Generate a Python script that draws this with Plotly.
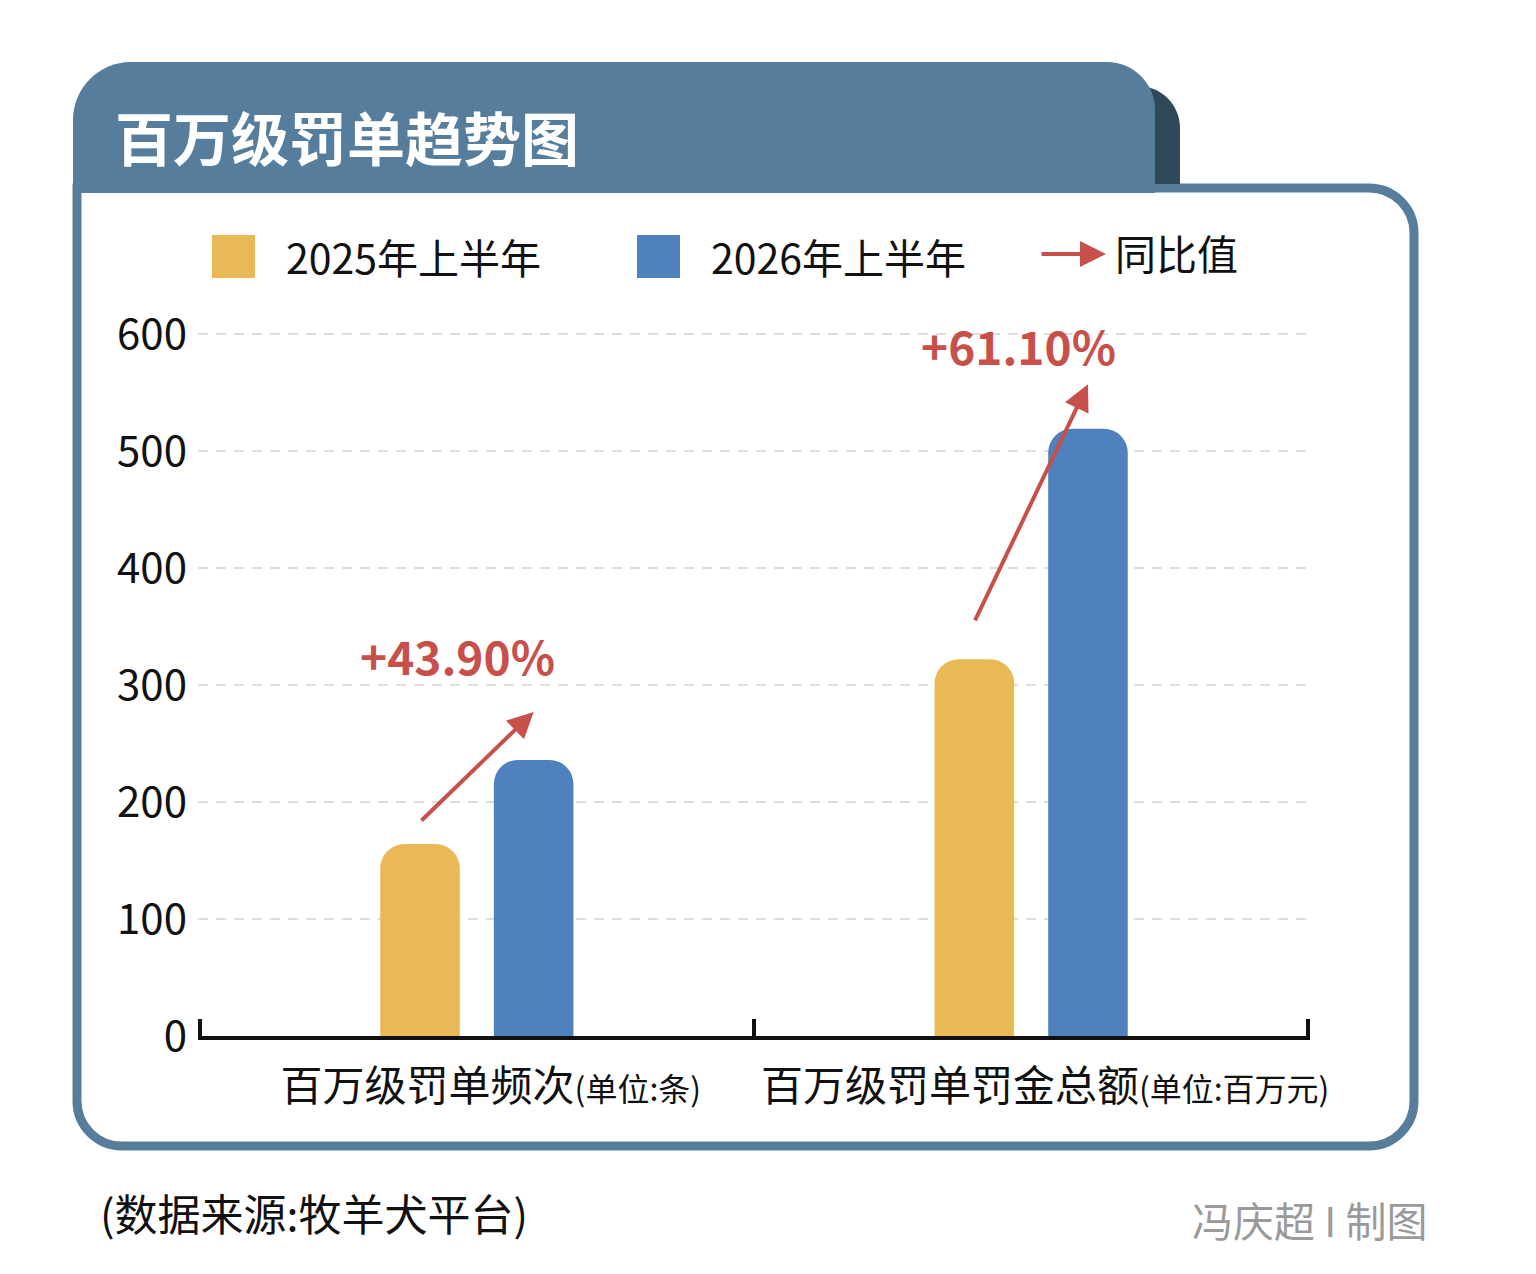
import plotly.graph_objects as go

# ---------------- data ----------------
categories = ["百万级罚单频次", "百万级罚单罚金总额"]
units = ["(单位:条)", "(单位:百万元)"]
series_names = ["2025年上半年", "2026年上半年"]
values_2025 = [164, 322]
values_2026 = [236, 519]
yoy_pct = [43.90, 61.10]
y_ticks = [0, 100, 200, 300, 400, 500, 600]

# ---------------- style ----------------
OFF = 8  # page body margin in the browser
W, H = 1536 - OFF, 1274 - OFF
ML, MR, MT, MB = 198 - OFF, 226, 300 - OFF, 238
PW, PH = W - ML - MR, H - MT - MB
FONT = "Noto Sans CJK SC"
C25, C26 = "#E9B955", "#4E81BD"
RED = "#C8504B"
FRAME = "#567E9C"
DARK = "#2F4959"
y_max = PH / 1.17  # 117 px per 100 units

bar_off = 0.1025
arrow_tail_pad = [19, 32]
arrow_head_pad = [41, 38]
label_dx = [-0.034, -0.022]
label_pad = [49, 34]


def px(x):
    return (x - OFF - ML) / PW


def py(y):
    return (H - MB - (y - OFF)) / PH


def rr_path(x0, y0, x1, y1, tl, tr, br, bl):
    k = 0.4477
    segs = [
        ("M", [(x0 + tl, y0)]),
        ("L", [(x1 - tr, y0)]),
        ("C", [(x1 - tr * k, y0), (x1, y0 + tr * k), (x1, y0 + tr)]),
        ("L", [(x1, y1 - br)]),
        ("C", [(x1, y1 - br * k), (x1 - br * k, y1), (x1 - br, y1)]),
        ("L", [(x0 + bl, y1)]),
        ("C", [(x0 + bl * k, y1), (x0, y1 - bl * k), (x0, y1 - bl)]),
        ("L", [(x0, y0 + tl)]),
        ("C", [(x0, y0 + tl * k), (x0 + tl * k, y0), (x0 + tl, y0)]),
    ]
    out = []
    for cmd, pts in segs:
        out.append(cmd + " ".join(f"{px(a):.5f},{py(b):.5f}" for a, b in pts))
    return " ".join(out) + " Z"


fig = go.Figure()
fig.add_trace(go.Bar(x=categories, y=values_2025, name=series_names[0],
                     marker=dict(color=C25, line=dict(width=0))))
fig.add_trace(go.Bar(x=categories, y=values_2026, name=series_names[1],
                     marker=dict(color=C26, line=dict(width=0))))

shapes = [
    dict(type="path", xref="paper", yref="paper", layer="below",
         path=rr_path(77, 188, 1414, 1146, 0, 45, 45, 45),
         fillcolor="white", line=dict(color=FRAME, width=9)),
    dict(type="path", xref="paper", yref="paper", layer="below",
         path=rr_path(1100, 86, 1180, 184, 0, 42, 0, 0),
         fillcolor=DARK, line=dict(width=0)),
    dict(type="path", xref="paper", yref="paper", layer="below",
         path=rr_path(73, 62, 1155, 193, 58, 48, 0, 0),
         fillcolor=FRAME, line=dict(width=0)),
    dict(type="rect", xref="paper", yref="paper", layer="above",
         x0=px(212), x1=px(255), y0=py(278), y1=py(235),
         fillcolor=C25, line=dict(width=0)),
    dict(type="rect", xref="paper", yref="paper", layer="above",
         x0=px(637), x1=px(680), y0=py(278), y1=py(235),
         fillcolor=C26, line=dict(width=0)),
]

ann = [
    dict(text="百万级罚单趋势图", x=px(113), y=py(136), xanchor="left", yanchor="middle",
         font=dict(family=FONT, size=58, color="white", weight=700)),
    dict(text=series_names[0], x=px(284), y=py(256), xanchor="left", yanchor="middle",
         font=dict(family=FONT, size=41, color="#111111")),
    dict(text=series_names[1], x=px(709), y=py(256), xanchor="left", yanchor="middle",
         font=dict(family=FONT, size=41, color="#111111")),
    dict(text="同比值", x=px(1113), y=py(252), xanchor="left", yanchor="middle",
         font=dict(family=FONT, size=41, color="#111111")),
    dict(text="", x=px(1106), y=py(254), ax=-66, ay=0, showarrow=True,
         arrowhead=2, arrowsize=1.3, arrowwidth=4, arrowcolor=RED),
    dict(text="(数据来源:牧羊犬平台)", x=px(98), y=py(1212), xanchor="left", yanchor="middle",
         font=dict(family=FONT, size=43, color="#111111")),
    dict(text="冯庆超 I 制图", x=px(1429), y=py(1219), xanchor="right", yanchor="middle",
         font=dict(family=FONT, size=41, color="#9A9A9A")),
]
for a in ann:
    a.setdefault("xref", "paper")
    a.setdefault("yref", "paper")
    a.setdefault("showarrow", False)

for i in range(len(categories)):
    tail_y = values_2025[i] + arrow_tail_pad[i]
    head_y = values_2026[i] + arrow_head_pad[i]
    ann.append(dict(xref="x", yref="y", axref="x", ayref="y",
                    x=i + bar_off, y=head_y, ax=i - bar_off, ay=tail_y,
                    text="", showarrow=True, arrowhead=2, arrowsize=1.3,
                    arrowwidth=4, arrowcolor=RED))
    ann.append(dict(xref="x", yref="y", x=i + label_dx[i], y=head_y + label_pad[i],
                    text=f"+{yoy_pct[i]:.2f}%", showarrow=False,
                    xanchor="center", yanchor="middle",
                    font=dict(family=FONT, size=46, color=RED, weight=700)))

ticktext = [f'{c}<span style="font-size:32px">{u}</span>' for c, u in zip(categories, units)]

fig.update_layout(
    width=W, height=H,
    margin=dict(l=ML, r=MR, t=MT, b=MB, pad=0, autoexpand=False),
    paper_bgcolor="white", plot_bgcolor="rgba(0,0,0,0)",
    barmode="group", bargap=0.59, bargroupgap=0.3, barcornerradius=24,
    showlegend=False,
    shapes=shapes, annotations=ann,
    font=dict(family=FONT, color="#111111"),
    xaxis=dict(type="category", range=[-0.503, 1.503], tickson="boundaries",
               ticks="inside", ticklen=17, tickwidth=4, tickcolor="#111111",
               showline=True, linecolor="#111111", linewidth=4,
               showgrid=False, zeroline=False, automargin=False, tickangle=0,
               tickvals=categories, ticktext=ticktext,
               tickfont=dict(family=FONT, size=42, color="#111111"),
               ticklabelstandoff=11, ticklabelshift=14),
    yaxis=dict(range=[0, y_max], tickvals=y_ticks, ticks="", automargin=False,
               showline=False, zeroline=False,
               showgrid=True, gridcolor="#DDDDDD", gridwidth=2, griddash="10px,8px",
               tickfont=dict(family=FONT, size=42, color="#111111"),
               ticklabelstandoff=10),
)

fig.write_html("out.html")
